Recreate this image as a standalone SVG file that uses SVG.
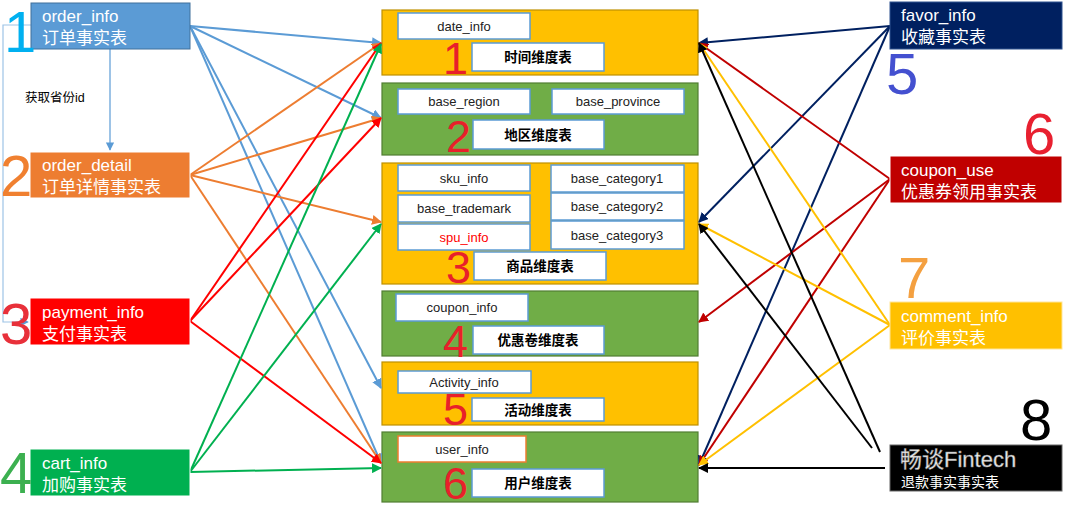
<svg xmlns="http://www.w3.org/2000/svg" width="1080" height="505" viewBox="0 0 1080 505">
<style>
.ft{font-family:"Liberation Sans","Noto Sans CJK SC",sans-serif;font-size:17px;fill:#fff}
.it{font-family:"Liberation Sans","Noto Sans CJK SC",sans-serif;font-size:13px;fill:#222;text-anchor:middle}
.tt{font-family:"Liberation Sans","Noto Sans CJK SC",sans-serif;font-size:13.5px;font-weight:bold;fill:#000;text-anchor:middle}
.num{font-family:"Liberation Sans","Noto Sans CJK SC",sans-serif;font-size:58px}
.bn{font-family:"Liberation Sans","Noto Sans CJK SC",sans-serif;font-size:45px;fill:#E8202A}
.ib{fill:#fff;stroke:#5B9BD5;stroke-width:1.5}
.yb{fill:#FFC000;stroke:#BF9000;stroke-width:1.2}
.gb{fill:#70AD47;stroke:#507E32;stroke-width:1.2}
.c{fill:none;stroke-width:2}
</style>
<defs>
<marker id="mb" viewBox="0 0 10 10" refX="9" refY="5" markerWidth="5" markerHeight="5" orient="auto"><path d="M0,0L10,5L0,10z" fill="#5B9BD5"/></marker>
<marker id="mo" viewBox="0 0 10 10" refX="9" refY="5" markerWidth="5" markerHeight="5" orient="auto"><path d="M0,0L10,5L0,10z" fill="#ED7D31"/></marker>
<marker id="mr" viewBox="0 0 10 10" refX="9" refY="5" markerWidth="5" markerHeight="5" orient="auto"><path d="M0,0L10,5L0,10z" fill="#FF0000"/></marker>
<marker id="mg" viewBox="0 0 10 10" refX="9" refY="5" markerWidth="5" markerHeight="5" orient="auto"><path d="M0,0L10,5L0,10z" fill="#00B050"/></marker>
<marker id="mn" viewBox="0 0 10 10" refX="9" refY="5" markerWidth="5" markerHeight="5" orient="auto"><path d="M0,0L10,5L0,10z" fill="#002060"/></marker>
<marker id="md" viewBox="0 0 10 10" refX="9" refY="5" markerWidth="5" markerHeight="5" orient="auto"><path d="M0,0L10,5L0,10z" fill="#C00000"/></marker>
<marker id="my" viewBox="0 0 10 10" refX="9" refY="5" markerWidth="5" markerHeight="5" orient="auto"><path d="M0,0L10,5L0,10z" fill="#FFC000"/></marker>
<marker id="mk" viewBox="0 0 10 10" refX="9" refY="5" markerWidth="5" markerHeight="5" orient="auto"><path d="M0,0L10,5L0,10z" fill="#000"/></marker>
<marker id="mt" viewBox="0 0 10 10" refX="9" refY="5" markerWidth="7" markerHeight="7" orient="auto"><path d="M0,0L10,5L0,10z" fill="#5B9BD5"/></marker>
</defs>

<!-- center dimension boxes -->
<g id="dim_time">
<rect class="yb" x="382" y="10" width="316" height="65"/>
<rect class="ib" x="398" y="13" width="132" height="26"/><text class="it" x="464" y="31">date_info</text>
<text class="bn" x="443" y="74">1</text>
<rect class="ib" x="472" y="43" width="132" height="28"/><text class="tt" x="538" y="62">时间维度表</text>
</g>
<g id="dim_region">
<rect class="gb" x="382" y="83" width="316" height="72"/>
<rect class="ib" x="398" y="89" width="132" height="25"/><text class="it" x="464" y="106">base_region</text>
<rect class="ib" x="552" y="89" width="132" height="25"/><text class="it" x="618" y="106">base_province</text>
<text class="bn" x="446" y="152">2</text>
<rect class="ib" x="473" y="120" width="131" height="29"/><text class="tt" x="538" y="140">地区维度表</text>
</g>
<g id="dim_goods">
<rect class="yb" x="382" y="163" width="316" height="121"/>
<rect class="ib" x="398" y="165" width="132" height="26"/><text class="it" x="464" y="183">sku_info</text>
<rect class="ib" x="398" y="195" width="132" height="27"/><text class="it" x="464" y="213">base_trademark</text>
<rect class="ib" x="398" y="224" width="132" height="26"/><text class="it" x="464" y="242" style="fill:#FF0000">spu_info</text>
<rect class="ib" x="551" y="165" width="133" height="27"/><text class="it" x="617" y="183">base_category1</text>
<rect class="ib" x="551" y="193" width="133" height="27"/><text class="it" x="617" y="211">base_category2</text>
<rect class="ib" x="551" y="221" width="133" height="28"/><text class="it" x="617" y="240">base_category3</text>
<text class="bn" x="446" y="283">3</text>
<rect class="ib" x="474" y="252" width="132" height="28"/><text class="tt" x="540" y="271">商品维度表</text>
</g>
<g id="dim_coupon">
<rect class="gb" x="382" y="291" width="316" height="65"/>
<rect class="ib" x="396" y="294" width="132" height="27"/><text class="it" x="462" y="312">coupon_info</text>
<text class="bn" x="443" y="357">4</text>
<rect class="ib" x="473" y="326" width="131" height="28"/><text class="tt" x="538" y="345">优惠卷维度表</text>
</g>
<g id="dim_activity">
<rect class="yb" x="382" y="362" width="316" height="63"/>
<rect class="ib" x="398" y="371" width="133" height="22"/><text class="it" x="464" y="387">Activity_info</text>
<text class="bn" x="443" y="425">5</text>
<rect class="ib" x="472" y="398" width="132" height="23"/><text class="tt" x="538" y="415">活动维度表</text>
</g>
<g id="dim_user">
<rect class="gb" x="382" y="432" width="316" height="70"/>
<rect x="398" y="436" width="128" height="26" fill="#fff" stroke="#ED7D31" stroke-width="1.5"/><text class="it" x="462" y="454">user_info</text>
<text class="bn" x="443" y="499">6</text>
<rect class="ib" x="472" y="469" width="132" height="28"/><text class="tt" x="538" y="488">用户维度表</text>
</g>

<!-- connectors -->
<g id="connectors">
<path d="M110,49V150" stroke="#5B9BD5" stroke-width="1.2" fill="none" marker-end="url(#mt)"/>
<path d="M31,25H3V322H28" stroke="#9DC3E6" stroke-width="1.2" fill="none" marker-end="url(#mt)"/>
<g class="c" stroke="#5B9BD5">
<path d="M190,26L381,43" marker-end="url(#mb)"/>
<path d="M190,26L381,118" marker-end="url(#mb)"/>
<path d="M190,26L381,388" marker-end="url(#mb)"/>
<path d="M190,26L381,463" marker-end="url(#mb)"/>
</g>
<g class="c" stroke="#ED7D31">
<path d="M190,175L381,43" marker-end="url(#mo)"/>
<path d="M190,175L381,118" marker-end="url(#mo)"/>
<path d="M190,175L381,222" marker-end="url(#mo)"/>
<path d="M190,175L381,463" marker-end="url(#mo)"/>
</g>
<g class="c" stroke="#FF0000">
<path d="M190,321L381,43" marker-end="url(#mr)"/>
<path d="M190,321L381,118" marker-end="url(#mr)"/>
<path d="M190,321L381,463" marker-end="url(#mr)"/>
</g>
<g class="c" stroke="#00B050">
<path d="M190,472L381,44" marker-end="url(#mg)"/>
<path d="M190,472L381,224" marker-end="url(#mg)"/>
<path d="M190,472L381,468" marker-end="url(#mg)"/>
</g>
<g class="c" stroke="#002060">
<path d="M890,26L699,43" marker-end="url(#mn)"/>
<path d="M890,26L699,222" marker-end="url(#mn)"/>
<path d="M890,26L699,465" marker-end="url(#mn)"/>
</g>
<g class="c" stroke="#C00000">
<path d="M890,179L699,43" marker-end="url(#md)"/>
<path d="M890,179L699,322" marker-end="url(#md)"/>
<path d="M890,179L699,465" marker-end="url(#md)"/>
</g>
<g class="c" stroke="#FFC000">
<path d="M890,325L699,43" marker-end="url(#my)"/>
<path d="M890,325L699,224" marker-end="url(#my)"/>
<path d="M890,325L699,465" marker-end="url(#my)"/>
</g>
<g class="c" stroke="#000">
<path d="M880,452L699,43" marker-end="url(#mk)"/>
<path d="M872,448L699,224" marker-end="url(#mk)"/>
<path d="M885,468L699,468" marker-end="url(#mk)"/>
</g>
</g>

<!-- left fact nodes -->
<g id="order_info">
<rect x="31" y="3" width="159" height="46" fill="#5B9BD5" stroke="#41719C"/>
<text class="ft" x="42" y="22">order_info</text><text class="ft" x="42" y="44">订单事实表</text>
<text class="num" x="4" y="52" fill="#00B0F0">1</text>
</g>
<text x="25" y="102" font-family="Liberation Sans,Noto Sans CJK SC,sans-serif" font-size="12.5" fill="#000">获取省份id</text>
<g id="order_detail">
<rect x="30" y="152" width="160" height="46" fill="#ED7D31" stroke="#fff"/>
<text class="ft" x="42" y="171">order_detail</text><text class="ft" x="42" y="193">订单详情事实表</text>
<text class="num" x="0" y="196" fill="#F08030">2</text>
</g>
<g id="payment_info">
<rect x="30" y="298" width="160" height="47" fill="#FF0000" stroke="#fff"/>
<text class="ft" x="42" y="318">payment_info</text><text class="ft" x="42" y="340">支付事实表</text>
<text class="num" x="0" y="344" fill="#E8303A">3</text>
</g>
<g id="cart_info">
<rect x="30" y="449" width="160" height="47" fill="#00B050" stroke="#fff"/>
<text class="ft" x="42" y="469">cart_info</text><text class="ft" x="42" y="491">加购事实表</text>
<text class="num" x="0" y="493" fill="#3CB050">4</text>
</g>

<!-- right fact nodes -->
<g id="favor_info">
<rect x="890" y="2" width="172" height="47" fill="#002060" stroke="#2F528F"/>
<text class="ft" x="901" y="21">favor_info</text><text class="ft" x="901" y="43">收藏事实表</text>
<text class="num" x="886" y="94" fill="#4450D0">5</text>
</g>
<g id="coupon_use">
<rect x="890" y="156" width="172" height="47" fill="#C00000" stroke="#fff"/>
<text class="ft" x="901" y="176">coupon_use</text><text class="ft" x="901" y="198">优惠券领用事实表</text>
<text class="num" x="1023" y="154" fill="#E82030">6</text>
</g>
<g id="comment_info">
<rect x="890" y="302" width="172" height="47" fill="#FFC000" stroke="#FFE699"/>
<text class="ft" x="901" y="322">comment_info</text><text class="ft" x="901" y="344">评价事实表</text>
<text class="num" x="898" y="298" fill="#F4A040">7</text>
</g>
<g id="refund_info">
<rect x="890" y="445" width="172" height="46" fill="#000" stroke="#666"/>
<text x="900" y="467" font-family="Liberation Sans,Noto Sans CJK SC,sans-serif" font-size="22" fill="#f0f0f0" stroke="#888" stroke-width="0.5">畅谈Fintech</text>
<text x="901" y="487" font-family="Liberation Sans,Noto Sans CJK SC,sans-serif" font-size="14" fill="#fff">退款事实事实表</text>
<text class="num" x="1020" y="440" fill="#000">8</text>
</g>
</svg>
